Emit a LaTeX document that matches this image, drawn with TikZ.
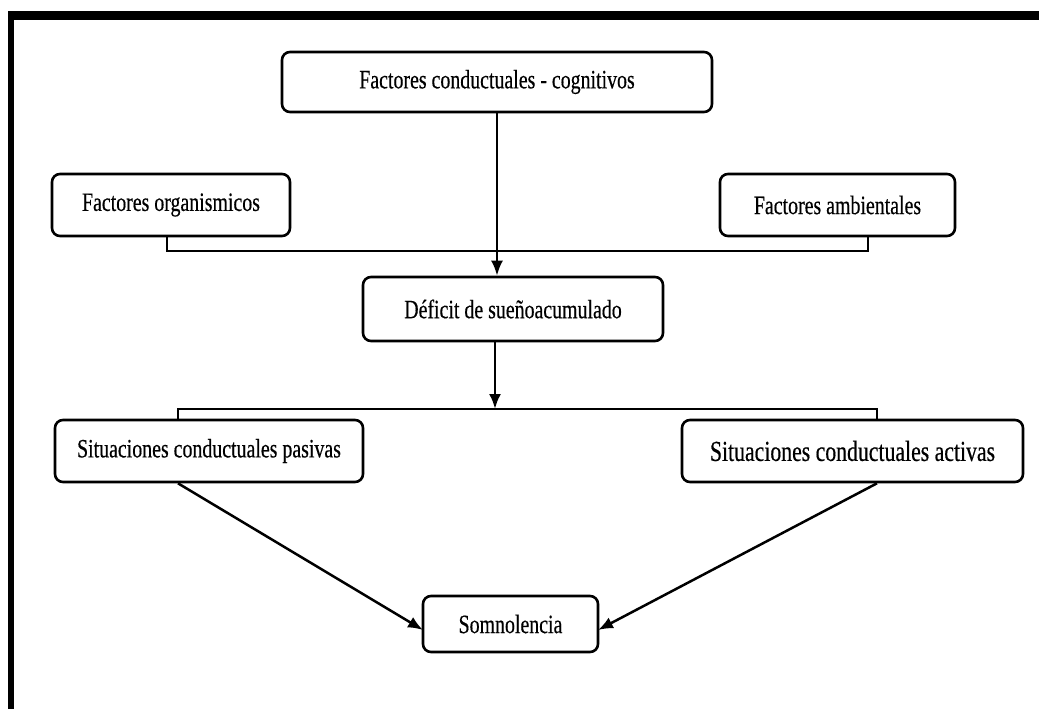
\documentclass[tikz,border=0pt]{standalone}
\usepackage{fontspec}
\setmainfont{Liberation Serif}
\newfontfamily\boxfont[FakeStretch=0.75,FakeBold=0.4]{Liberation Serif}
\usetikzlibrary{arrows.meta}
\tikzset{
  box/.style={draw, line width=2.6pt, rounded corners=8pt, fill=white, align=center,
    font=\boxfont\fontsize{26.5}{30}\selectfont, inner sep=0pt},
  conn/.style={line width=2.5pt},
  bracket/.style={line width=1.8pt},
  arr/.style={conn, -{Latex[length=15pt,width=12pt]}}
}
\begin{document}
\begin{tikzpicture}[x=1pt,y=-1pt]
\useasboundingbox (0,0) rectangle (1039,709);
% frame
\fill[black] (8,11) rectangle (1039,20);
\fill[black] (8,11) rectangle (13.5,709);

\node[box, minimum width=430pt, minimum height=60pt] (top) at (497,82) {Factores conductuales - cognitivos};
\node[box, minimum width=238pt, minimum height=62pt] (org) at (171,205) {Factores organismicos};
\node[box, minimum width=235pt, minimum height=62pt] (amb) at (837.5,205) {Factores ambientales};
\node[box, minimum width=300pt, minimum height=64pt] (def) at (513,309) {Déficit de sueñoacumulado};
\node[box, minimum width=308pt, minimum height=62pt] (pas) at (209,451) {Situaciones conductuales pasivas};
\node[box, minimum width=341pt, minimum height=62pt, font=\boxfont\fontsize{29}{33}\selectfont] (act) at (852.5,451) {Situaciones conductuales activas};
\node[box, minimum width=175pt, minimum height=56pt] (som) at (510.5,624) {Somnolencia};

\coordinate (b1) at (167,251);
\coordinate (b2) at (868,251);
\coordinate (c1) at (178,409);
\coordinate (c2) at (877,409);
\coordinate (cm) at (495,409);
\coordinate (sl) at (423,630);
\coordinate (sr) at (598,630);

% upper bracket
\draw[bracket] (org.south -| b1) -- (b1) -- (b2) -- (amb.south -| b2);
% lower bracket
\draw[bracket] (pas.north -| c1) -- (c1) -- (c2) -- (act.north -| c2);

% arrows
\draw[arr] (top.south) -- (top.south |- def.north);
\draw[arr] (def.south -| cm) -- (cm);
\draw[arr] (pas.south -| c1) -- (sl);
\draw[arr] (act.south -| c2) -- (sr);
\end{tikzpicture}
\end{document}
